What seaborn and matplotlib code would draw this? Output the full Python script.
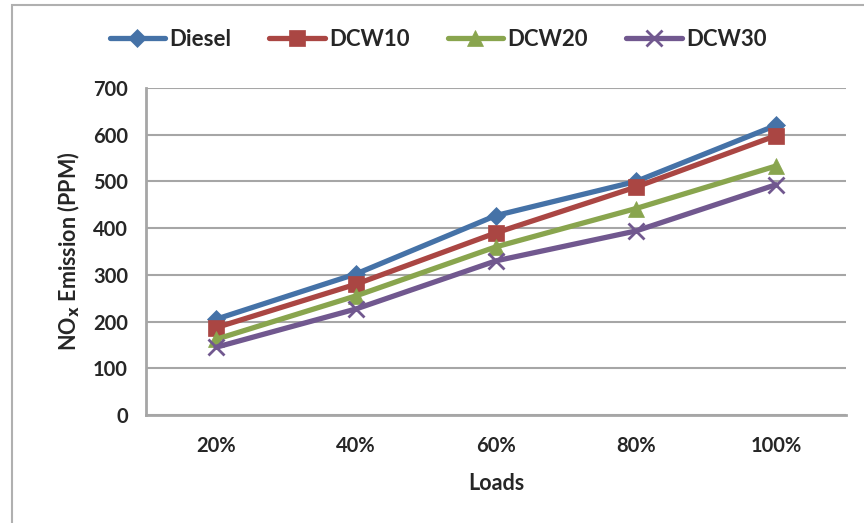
import numpy as np
import pandas as pd
import matplotlib
matplotlib.use("Agg")
import matplotlib.pyplot as plt
import seaborn as sns
from matplotlib.patches import Rectangle

# data
loads = ["20%", "40%", "60%", "80%", "100%"]
diesel = [205, 302, 427, 500, 620]
dcw10 = [187, 280, 390, 488, 598]
dcw20 = [162, 255, 360, 442, 533]
dcw30 = [145, 227, 330, 394, 493]

series = {"Diesel": diesel, "DCW10": dcw10, "DCW20": dcw20, "DCW30": dcw30}
colors = {"Diesel": "#4572A7", "DCW10": "#AA4643", "DCW20": "#89A54E", "DCW30": "#71588F"}
markers = {"Diesel": "D", "DCW10": "s", "DCW20": "^", "DCW30": "x"}
msizes = {"Diesel": 9, "DCW10": 11, "DCW20": 11, "DCW30": 11}

rows = []
for name, vals in series.items():
    for i, v in enumerate(vals):
        rows.append({"pos": i, "load": loads[i], "series": name, "nox": v})
df = pd.DataFrame(rows)

sns.set_style("white")
plt.rcParams["font.family"] = ["Lato", "DejaVu Sans"]
plt.rcParams["font.weight"] = "bold"

fig = plt.figure(figsize=(8.64, 5.23), dpi=100)
ax = fig.add_axes([146 / 864, 108 / 523, 700 / 864, 327 / 523])

for name in series:
    sub = df[df["series"] == name]
    sns.lineplot(
        data=sub, x="pos", y="nox", ax=ax,
        color=colors[name], linewidth=3.8,
        marker=markers[name], markersize=msizes[name],
        markeredgecolor=colors[name],
        markeredgewidth=2.0 if name == "DCW30" else 0.5,
        label=name,
    )

grey = "#a6a6a6"
txt = "#262626"
ax.set_xlim(-0.5, 4.5)
ax.set_ylim(0, 700)
ax.set_yticks(range(0, 701, 100))
ax.yaxis.grid(True, color=grey, linewidth=1.5)
ax.set_axisbelow(True)

# category boundaries get the tick marks, labels sit in the middle
ax.set_xticks(np.arange(-0.5, 5.0, 1.0))
ax.set_xticklabels([])
ax.set_xticks(np.arange(0, 5), minor=True)
ax.set_xticklabels(loads, minor=True, fontsize=14.5, fontweight="bold", color=txt)
ax.tick_params(axis="x", which="major", length=6, width=1.5, color=grey, direction="out")
ax.tick_params(axis="x", which="minor", length=0, pad=15)
ax.tick_params(axis="y", length=6, width=1.5, color=grey, direction="out",
               labelsize=14.5, labelcolor=txt, pad=7)
for lab in ax.get_yticklabels():
    lab.set_fontweight("bold")

for side in ["top", "right"]:
    ax.spines[side].set_visible(False)
for side in ["left", "bottom"]:
    ax.spines[side].set_color(grey)
    ax.spines[side].set_linewidth(2)

ax.set_xlabel("Loads", fontsize=15.5, fontweight="bold", color=txt, labelpad=12)
ax.set_ylabel("NO$_\\mathbf{x}$ Emission (PPM)", fontsize=15.5, fontweight="bold",
              color=txt, labelpad=8)

handles, labels = ax.get_legend_handles_labels()
ax.legend_.remove()
fig.legend(handles, labels, loc="center", bbox_to_anchor=(0.507, 0.924), ncol=4,
           frameon=False, handlelength=2.5, columnspacing=1.7,
           handletextpad=0.2, prop={"weight": "bold", "size": 16})

# outer chart border (cropped on the right and bottom)
fig.patches.append(Rectangle((12 / 864, -0.1), 2.0, (523 - 5) / 523 + 0.1,
                             transform=fig.transFigure, fill=False,
                             edgecolor="#b0b0b0", linewidth=1.5))

fig.savefig("out.png", dpi=100)
